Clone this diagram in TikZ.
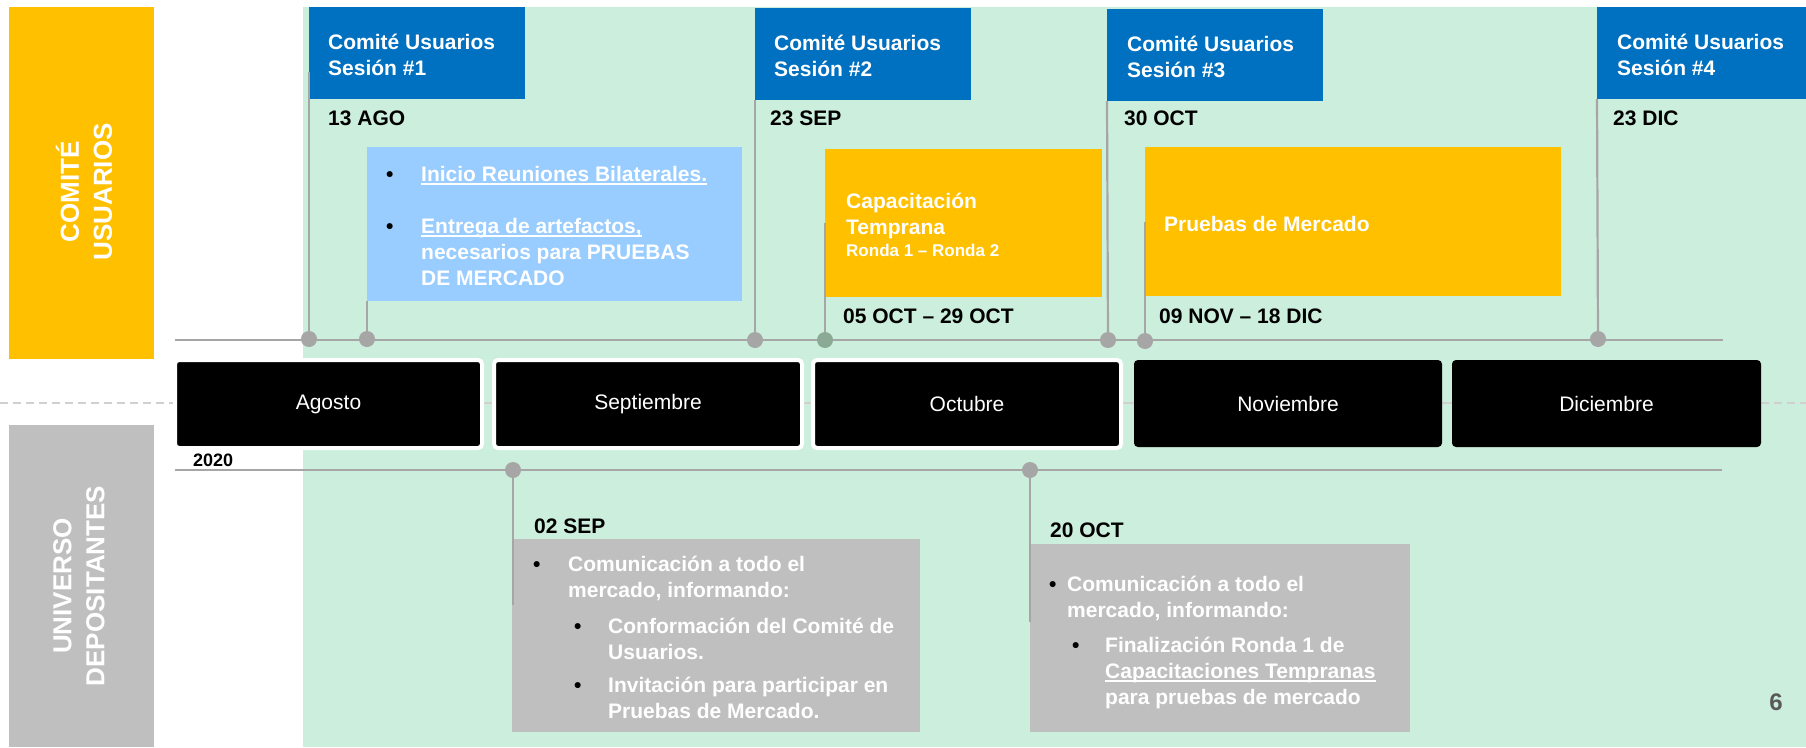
\documentclass[tikz,border=0pt]{standalone}
\usepackage{fontspec}
\setmainfont{Liberation Sans}
\usetikzlibrary{fit}
\definecolor{cyel}{HTML}{FFC000}
\definecolor{cblue}{HTML}{0070C0}
\definecolor{clblue}{HTML}{99CCFF}
\definecolor{cgreen}{HTML}{CCEEDC}
\definecolor{cgrey}{HTML}{BFBFBF}
\definecolor{cline}{HTML}{A6A6A6}
\definecolor{cdotg}{HTML}{8AAA96}
\definecolor{cdash}{HTML}{D0D0D0}
\definecolor{cnum}{HTML}{595959}
\newcommand{\bul}[1]{\makebox[#1][l]{\textcolor{black}{\textbullet}}}
\newsavebox{\myulbox}
\newcommand{\myul}[1]{\sbox{\myulbox}{#1}\rlap{\rule[-3.5pt]{\wd\myulbox}{1.5pt}}\usebox{\myulbox}}
\begin{document}
\begin{tikzpicture}[x=1pt,y=-1pt,
  panel/.style={inner sep=0pt, outer sep=0pt, draw=none},
  dotn/.style={circle, fill=cline, minimum size=16pt, inner sep=0pt},
  conn/.style={draw=cline, line width=2.2pt},
  wtxt/.style={inner sep=0pt, anchor=base west, text=white, font=\fontsize{21}{26}\selectfont\bfseries},
  btxt/.style={inner sep=0pt, anchor=base west, text=black, font=\fontsize{21}{26}\selectfont\bfseries},
  month/.style={fill=black, rounded corners=4pt, inner sep=0pt, minimum height=84pt, text=white, font=\fontsize{21}{26}\selectfont},
  monthw/.style={month, draw=white, line width=4pt, minimum height=88pt},
  side/.style={rotate=90, align=center, text=white, font=\fontsize{26}{33}\selectfont\bfseries}
]
\useasboundingbox (0,0) rectangle (1806,747);
% background
\node[panel, fill=cgreen, fit={(303,7) (1806,747)}] (bg) {};
% side panels
\node[panel, fill=cyel, fit={(9,7) (154,359)}] (sideA) {};
\node[side] (sideAt) at (84,192) {COMITÉ\\USUARIOS};
\node[panel, fill=cgrey, fit={(9,425) (154,747)}] (sideB) {};
\node[side] (sideBt) at (79,586) {UNIVERSO\\DEPOSITANTES};

% dashed separator
\coordinate (dsL) at (0,403);
\coordinate (dsLe) at (170,403);
\coordinate (dsR) at (1761,403);
\coordinate (dsRe) at (1806,403);
\draw[cdash, line width=2pt, dash pattern=on 8pt off 5pt] (dsL) -- (dsLe);
\draw[cdash, line width=2pt, dash pattern=on 8pt off 5pt] (dsR) -- (dsRe);
\draw[cdash, line width=2pt] (dsLe) -- (dsR);

% axes
\coordinate (ax1L) at (175,340);
\coordinate (ax1R) at (1723,340);
\coordinate (ax2L) at (175,470);
\coordinate (ax2R) at (1722,470);
\draw[conn] (ax1L) -- (ax1R);
\draw[conn] (ax2L) -- (ax2R);

% blue session boxes
\node[panel, fill=cblue, fit={(309,7) (525,99)}] (b1) {};
\node[panel, fill=cblue, fit={(755,8) (971,100)}] (b2) {};
\node[panel, fill=cblue, fit={(1107,9) (1323,101)}] (b3) {};
\node[panel, fill=cblue, fit={(1597,7) (1806,99)}] (b4) {};
\node[wtxt] (b1t) at (328,49) {\begin{tabular}[t]{@{}l@{}}Comité Usuarios\\Sesión \#1\end{tabular}};
\node[wtxt] (b2t) at (774,50) {\begin{tabular}[t]{@{}l@{}}Comité Usuarios\\Sesión \#2\end{tabular}};
\node[wtxt] (b3t) at (1127,51) {\begin{tabular}[t]{@{}l@{}}Comité Usuarios\\Sesión \#3\end{tabular}};
\node[wtxt] (b4t) at (1617,49) {\begin{tabular}[t]{@{}l@{}}Comité Usuarios\\Sesión \#4\end{tabular}};

% dates
\node[btxt] (t1) at (328,125) {13 AGO};
\node[btxt] (t2) at (770,125) {23 SEP};
\node[btxt] (t3) at (1124,125) {30 OCT};
\node[btxt] (t4) at (1613,125) {23 DIC};

% light blue box
\node[panel, fill=clblue, fit={(367,147) (742,301)}] (lb) {};
\node[wtxt] (lbt) at (386,181) {\begin{tabular}[t]{@{}l@{}}\bul{35pt}\myul{Inicio Reuniones Bilaterales.}\\[26pt]\bul{35pt}\myul{Entrega de artefactos,}\\\hspace{35pt}necesarios para PRUEBAS\\\hspace{35pt}DE MERCADO\end{tabular}};

% yellow activity boxes
\node[panel, fill=cyel, fit={(825,149) (1102,297)}] (cap) {};
\node[wtxt] (capt) at (846,208) {\begin{tabular}[t]{@{}l@{}}Capacitación\\Temprana\\[-4pt]\fontsize{17}{21}\selectfont Ronda 1 – Ronda 2\end{tabular}};
\node[btxt] (capd) at (843,323) {05 OCT – 29 OCT};
\node[panel, fill=cyel, fit={(1145,147) (1561,296)}] (pm) {};
\node[wtxt] (pmt) at (1164,231) {Pruebas de Mercado};
\node[btxt] (pmd) at (1159,323) {09 NOV – 18 DIC};

% month boxes
\node[monthw, minimum width=307pt] (m1) at (328.5,404) {Agosto};
\node[monthw, minimum width=308pt] (m2) at (648,404) {Septiembre};
\node[monthw, minimum width=308pt] (m3) at (967,404) {Octubre};
\node[month, minimum width=308pt, minimum height=87pt] (m4) at (1288,403.5) {Noviembre};
\node[month, minimum width=309pt, minimum height=87pt] (m5) at (1606.5,403.5) {Diciembre};
\node[btxt, font=\fontsize{18}{22}\selectfont\bfseries] (yr) at (193,466) {2020};

% grey info boxes
\node[panel, fill=cgrey, fit={(512,539) (920,732)}] (g1) {};
\node[btxt] (g1d) at (534,533) {02 SEP};
\node[wtxt] (g1t) at (533,571) {\begin{tabular}[t]{@{}l@{}}\bul{35pt}Comunicación a todo el\\\hspace{35pt}mercado, informando:\\[10pt]\hspace{41pt}\bul{34pt}Conformación del Comité de\\\hspace{75pt}Usuarios.\\[7pt]\hspace{41pt}\bul{34pt}Invitación para participar en\\\hspace{75pt}Pruebas de Mercado.\end{tabular}};
\node[panel, fill=cgrey, fit={(1030,544) (1410,732)}] (g2) {};
\node[btxt] (g2d) at (1050,537) {20 OCT};
\node[wtxt] (g2t) at (1049,591) {\begin{tabular}[t]{@{}l@{}}\bul{18pt}Comunicación a todo el\\\hspace{18pt}mercado, informando:\\[9pt]\hspace{23pt}\bul{33pt}Finalización Ronda 1 de\\\hspace{56pt}\myul{Capacitaciones Tempranas}\\\hspace{56pt}para pruebas de mercado\end{tabular}};

% dots
\node[dotn] (d1) at (309,339) {};
\node[dotn] (d2) at (367,339) {};
\node[dotn] (d3) at (755,340) {};
\node[dotn, fill=cdotg] (d4) at (825,340) {};
\node[dotn] (d5) at (1108,340) {};
\node[dotn] (d6) at (1145,341) {};
\node[dotn] (d7) at (1598,339) {};
\node[dotn] (e1) at (513,470) {};
\node[dotn] (e2) at (1030,470) {};

% connectors
\coordinate (v1top) at (309,72);
\coordinate (g1end) at (513,605);
\coordinate (g2end) at (1030,622);
\draw[conn] (v1top) -- (d1);
\draw[conn] (lb.south west) -- (d2);
\draw[conn] (b2.south west) -- (d3);
\draw[conn] (cap.west) -- (d4);
\draw[conn] (b3.south west) -- (d5);
\draw[conn] (pm.west) -- (d6);
\draw[conn] (b4.south west) -- (d7);
\draw[conn] (e1) -- (g1end);
\draw[conn] (e2) -- (g2end);

% page number
\node[text=cnum, font=\fontsize{24}{28}\selectfont\bfseries, inner sep=0pt] (pg) at (1776,702) {6};
\end{tikzpicture}
\end{document}
